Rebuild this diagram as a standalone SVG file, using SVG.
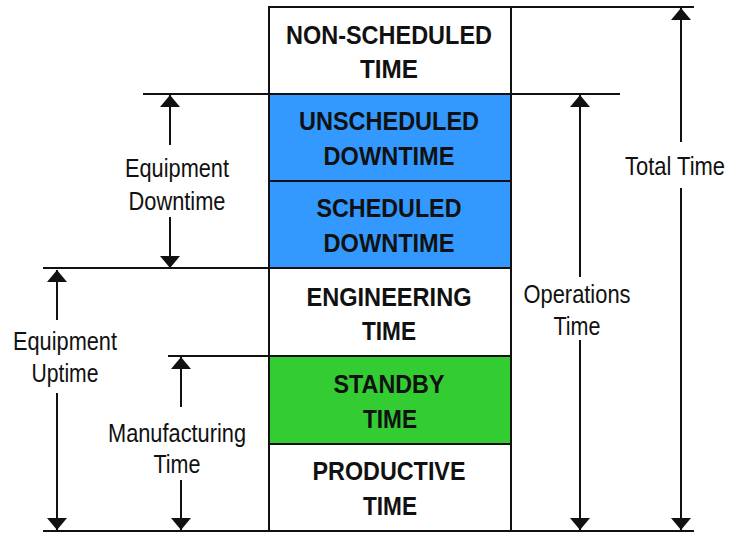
<svg xmlns="http://www.w3.org/2000/svg" width="730" height="533" viewBox="0 0 730 533">
<style>
.box{stroke:#111;stroke-width:2}
.bt{font-family:"Liberation Sans",Arial,sans-serif;font-weight:bold;font-size:26px;fill:#111}
.lt{font-family:"Liberation Sans",Arial,sans-serif;font-size:25px;fill:#111}
.ln{stroke:#111;stroke-width:2;fill:none}
.ar{stroke:#111;stroke-width:2;fill:none;marker-end:url(#ah)}
</style>
<defs>
<marker id="ah" viewBox="0 0 12 20" refX="12" refY="10" markerWidth="12" markerHeight="20" markerUnits="userSpaceOnUse" orient="auto"><path d="M0,0 L12,10 L0,20 z" fill="#111"/></marker>
</defs>
<rect width="730" height="533" fill="#fff"/>
<g id="non-scheduled">
<rect class="box" x="269" y="7" width="242" height="87" fill="#fff"/>
<text class="bt" x="389" y="44" text-anchor="middle" textLength="206" lengthAdjust="spacingAndGlyphs">NON-SCHEDULED</text>
<text class="bt" x="389" y="78" text-anchor="middle" textLength="58" lengthAdjust="spacingAndGlyphs">TIME</text>
</g>
<g id="unscheduled">
<rect class="box" x="269" y="94" width="242" height="87" fill="#3399FF"/>
<text class="bt" x="389" y="130" text-anchor="middle" textLength="180" lengthAdjust="spacingAndGlyphs">UNSCHEDULED</text>
<text class="bt" x="389" y="165" text-anchor="middle" textLength="131" lengthAdjust="spacingAndGlyphs">DOWNTIME</text>
</g>
<g id="scheduled">
<rect class="box" x="269" y="181" width="242" height="87" fill="#3399FF"/>
<text class="bt" x="389" y="217" text-anchor="middle" textLength="145" lengthAdjust="spacingAndGlyphs">SCHEDULED</text>
<text class="bt" x="389" y="252" text-anchor="middle" textLength="131" lengthAdjust="spacingAndGlyphs">DOWNTIME</text>
</g>
<g id="engineering">
<rect class="box" x="269" y="268" width="242" height="88" fill="#fff"/>
<text class="bt" x="389" y="306" text-anchor="middle" textLength="165" lengthAdjust="spacingAndGlyphs">ENGINEERING</text>
<text class="bt" x="389" y="340" text-anchor="middle" textLength="54" lengthAdjust="spacingAndGlyphs">TIME</text>
</g>
<g id="standby">
<rect class="box" x="269" y="356" width="242" height="88" fill="#33CC33"/>
<text class="bt" x="389" y="393" text-anchor="middle" textLength="111" lengthAdjust="spacingAndGlyphs">STANDBY</text>
<text class="bt" x="390" y="428" text-anchor="middle" textLength="54" lengthAdjust="spacingAndGlyphs">TIME</text>
</g>
<g id="productive">
<rect class="box" x="269" y="444" width="242" height="87" fill="#fff"/>
<text class="bt" x="389" y="480" text-anchor="middle" textLength="153" lengthAdjust="spacingAndGlyphs">PRODUCTIVE</text>
<text class="bt" x="390" y="515" text-anchor="middle" textLength="54" lengthAdjust="spacingAndGlyphs">TIME</text>
</g>
<g id="connectors">
<line class="ln" x1="511" y1="7" x2="694" y2="7"/>
<line class="ln" x1="143" y1="94" x2="620" y2="94"/>
<line class="ln" x1="43" y1="268" x2="269" y2="268"/>
<line class="ln" x1="168" y1="356" x2="269" y2="356"/>
<line class="ln" x1="43" y1="531" x2="694" y2="531"/>
<line class="ar" x1="170" y1="145" x2="170" y2="95"/>
<line class="ar" x1="170" y1="217" x2="170" y2="268"/>
<line class="ar" x1="57" y1="320" x2="57" y2="270"/>
<line class="ar" x1="57" y1="393" x2="57" y2="530"/>
<line class="ar" x1="181" y1="407" x2="181" y2="357"/>
<line class="ar" x1="181" y1="480" x2="181" y2="530"/>
<line class="ar" x1="580" y1="277" x2="580" y2="95"/>
<line class="ar" x1="580" y1="340" x2="580" y2="530"/>
<line class="ar" x1="681" y1="142" x2="681" y2="8"/>
<line class="ar" x1="681" y1="188" x2="681" y2="530"/>
</g>
<g id="labels">
<text class="lt" x="177" y="177" text-anchor="middle" textLength="104" lengthAdjust="spacingAndGlyphs">Equipment</text>
<text class="lt" x="177" y="210" text-anchor="middle" textLength="97" lengthAdjust="spacingAndGlyphs">Downtime</text>
<text class="lt" x="65" y="350" text-anchor="middle" textLength="104" lengthAdjust="spacingAndGlyphs">Equipment</text>
<text class="lt" x="65" y="382" text-anchor="middle" textLength="67" lengthAdjust="spacingAndGlyphs">Uptime</text>
<text class="lt" x="177" y="442" text-anchor="middle" textLength="138" lengthAdjust="spacingAndGlyphs">Manufacturing</text>
<text class="lt" x="177" y="473" text-anchor="middle" textLength="47" lengthAdjust="spacingAndGlyphs">Time</text>
<text class="lt" x="577" y="303" text-anchor="middle" textLength="107" lengthAdjust="spacingAndGlyphs">Operations</text>
<text class="lt" x="577" y="335" text-anchor="middle" textLength="47" lengthAdjust="spacingAndGlyphs">Time</text>
<text class="lt" x="675" y="175" text-anchor="middle" textLength="100" lengthAdjust="spacingAndGlyphs">Total Time</text>
</g>
</svg>
